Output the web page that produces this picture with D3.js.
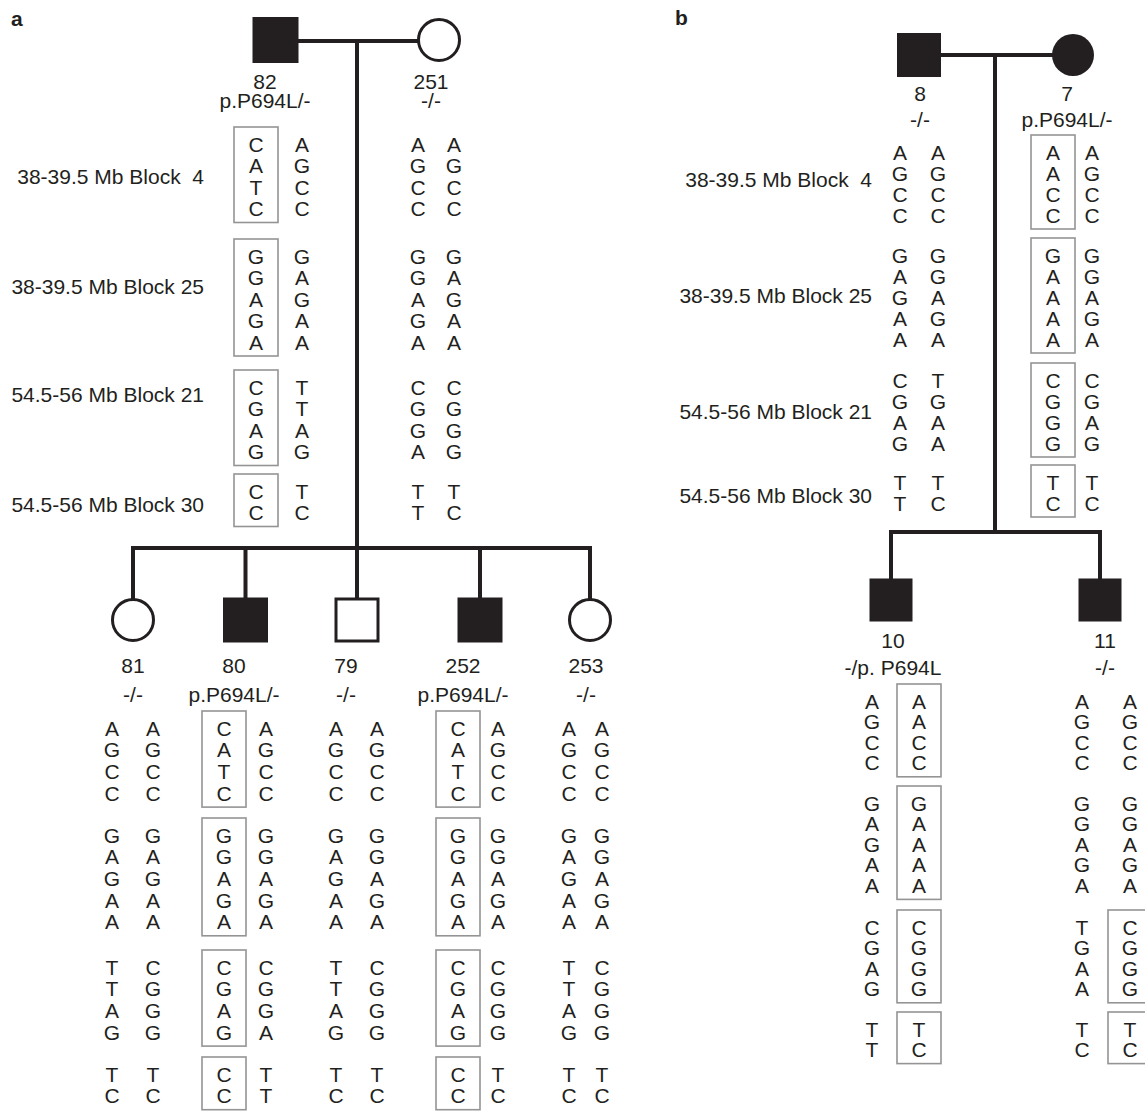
<!DOCTYPE html>
<html lang="en">
<head>
<meta charset="UTF-8">
<title>Pedigrees</title>
<style>
  body { margin: 0; background: #fff; }
  text { font-family: "Liberation Sans", Arial, Helvetica, sans-serif; fill: #231f20; }
</style>
</head>
<body>
<script src="https://cdn.jsdelivr.net/npm/d3@7/dist/d3.min.js"></script>
<script>
// ---- data ----
var blockNames = ["38-39.5 Mb Block  4", "38-39.5 Mb Block 25", "54.5-56 Mb Block 21", "54.5-56 Mb Block 30"];

// family a
var idsA      = ["82", "251", "81", "80", "79", "252", "253"];
var sexA      = ["m", "f", "f", "m", "m", "m", "f"];
var affectedA = [1, 0, 0, 1, 0, 1, 0];
var genoA     = ["p.P694L/-", "-/-", "-/-", "p.P694L/-", "-/-", "p.P694L/-", "-/-"];
var hap1A = [
  ["CATC", "GGAGA", "CGAG", "CC"],
  ["AGCC", "GGAGA", "CGGA", "TT"],
  ["AGCC", "GAGAA", "TTAG", "TC"],
  ["CATC", "GGAGA", "CGAG", "CC"],
  ["AGCC", "GAGAA", "TTAG", "TC"],
  ["CATC", "GGAGA", "CGAG", "CC"],
  ["AGCC", "GAGAA", "TTAG", "TC"]
];
var hap2A = [
  ["AGCC", "GAGAA", "TTAG", "TC"],
  ["AGCC", "GAGAA", "CGGG", "TC"],
  ["AGCC", "GAGAA", "CGGG", "TC"],
  ["AGCC", "GGAGA", "CGGA", "TT"],
  ["AGCC", "GGAGA", "CGGG", "TC"],
  ["AGCC", "GGAGA", "CGGG", "TC"],
  ["AGCC", "GGAGA", "CGGG", "TC"]
];
// blocks framed (carrying the mutant haplotype), per chromosome
var box1A = [[0, 1, 2, 3], [], [], [0, 1, 2, 3], [], [0, 1, 2, 3], []];
var box2A = [[], [], [], [], [], [], []];

// family b
var idsB      = ["8", "7", "10", "11"];
var sexB      = ["m", "f", "m", "m"];
var affectedB = [1, 1, 1, 1];
var genoB     = ["-/-", "p.P694L/-", "-/p. P694L", "-/-"];
var hap1B = [
  ["AGCC", "GAGAA", "CGAG", "TT"],
  ["AACC", "GAAAA", "CGGG", "TC"],
  ["AGCC", "GAGAA", "CGAG", "TT"],
  ["AGCC", "GGAGA", "TGAA", "TC"]
];
var hap2B = [
  ["AGCC", "GGAGA", "TGAA", "TC"],
  ["AGCC", "GGAGA", "CGAG", "TC"],
  ["AACC", "GAAAA", "CGGG", "TC"],
  ["AGCC", "GGAGA", "CGGG", "TC"]
];
var box1B = [[], [0, 1, 2, 3], [], []];
var box2B = [[], [], [0, 1, 2, 3], [2, 3]];

// ---- layout ----
var W = 1145, H = 1113;
var ink = "#231f20", boxColor = "#949494";

var svg = d3.select("body").append("svg")
  .attr("width", W).attr("height", H);

function rowScale(blockY, rowH) {
  // y of a letter from block index and row index
  return function(b, r) { return blockY[b] + r * rowH; };
}

var panels = [
  {
    tag: "a", tagX: 11, tagY: 26,
    ids: idsA, sex: sexA, aff: affectedA, geno: genoA, h1: hap1A, h2: hap2A, b1: box1A, b2: box2A,
    labelX: 204, labelY: [176, 286, 394, 504],
    mate: {y: 41, x1: 275, x2: 439}, descentX: 357,
    sib: {y: 548, x1: 133, x2: 590},
    parentY: 40, childY: 620,
    symX: [275.5, 439, 133, 245.5, 357, 480, 590],
    size: [46, 44, 44, 45, 45, 45, 44],
    lblX: [265, 431, 133, 234, 346, 463, 586],
    col1: [256, 418, 112, 224, 336, 458, 569],
    col2: [302, 454, 153, 266, 377, 498, 602],
    idBase: [89, 89, 673, 673, 673, 673, 673],
    genoBase: [108, 108, 702, 702, 702, 702, 702],
    parentRows: rowScale([144, 256, 387, 491], 21.5),
    childRows: rowScale([728, 835, 967, 1074], 21.7)
  },
  {
    tag: "b", tagX: 675, tagY: 25,
    ids: idsB, sex: sexB, aff: affectedB, geno: genoB, h1: hap1B, h2: hap2B, b1: box1B, b2: box2B,
    labelX: 872, labelY: [179, 295, 411, 495],
    mate: {y: 55, x1: 919, x2: 1073}, descentX: 995,
    sib: {y: 532, x1: 891, x2: 1100},
    parentY: 55, childY: 600,
    symX: [919, 1073, 891, 1100],
    size: [44, 42, 43, 43],
    lblX: [920, 1067, 893, 1105],
    col1: [900, 1053, 872, 1082],
    col2: [938, 1092, 919, 1130],
    idBase: [101, 101, 648, 648],
    genoBase: [127, 127, 675, 675],
    parentRows: rowScale([152, 255, 380, 482], 21),
    childRows: rowScale([701, 803, 927, 1029], 20.6)
  }
];

panels.forEach(function(P) {
  var g = svg.append("g");

  g.append("text").attr("x", P.tagX).attr("y", P.tagY)
    .attr("font-size", 21).attr("font-weight", "bold").text(P.tag);

  // block labels
  g.selectAll("text.blk").data(blockNames).join("text")
    .attr("class", "blk")
    .attr("x", P.labelX)
    .attr("y", function(d, i) { return P.labelY[i] + 7.5; })
    .attr("text-anchor", "end")
    .attr("font-size", 21)
    .attr("xml:space", "preserve")
    .style("white-space", "pre")
    .text(function(d) { return d; });

  // pedigree lines
  var lines = g.append("g").attr("stroke", ink).attr("stroke-width", 4).attr("fill", "none");
  lines.append("line").attr("x1", P.mate.x1).attr("x2", P.mate.x2).attr("y1", P.mate.y).attr("y2", P.mate.y);
  lines.append("line").attr("x1", P.descentX).attr("x2", P.descentX).attr("y1", P.mate.y).attr("y2", P.sib.y);
  lines.append("line").attr("x1", P.sib.x1 - 2).attr("x2", P.sib.x2 + 2).attr("y1", P.sib.y).attr("y2", P.sib.y);

  var people = P.ids.map(function(id, i) {
    return {id: id, i: i, child: i >= 2};
  });

  lines.selectAll("line.drop").data(people.filter(function(p) { return p.child; })).join("line")
    .attr("class", "drop")
    .attr("x1", function(p) { return P.symX[p.i]; })
    .attr("x2", function(p) { return P.symX[p.i]; })
    .attr("y1", P.sib.y)
    .attr("y2", P.childY);

  // symbols
  people.forEach(function(p) {
    var i = p.i, cx = P.symX[i], cy = p.child ? P.childY : P.parentY, s = P.size[i];
    var fill = P.aff[i] ? ink : "#fff";
    if (P.sex[i] === "m") {
      var sw = P.aff[i] ? 0 : 3;
      g.append("rect")
        .attr("x", cx - s / 2 + sw / 2).attr("y", cy - s / 2 + sw / 2)
        .attr("width", s - sw).attr("height", s - sw)
        .attr("fill", fill).attr("stroke", ink).attr("stroke-width", sw);
    } else {
      var sw2 = P.aff[i] ? 0 : 3;
      g.append("circle")
        .attr("cx", cx).attr("cy", cy).attr("r", s / 2 - sw2 / 2)
        .attr("fill", fill).attr("stroke", ink).attr("stroke-width", sw2);
    }

    // labels
    g.append("text").attr("x", P.lblX[i]).attr("y", P.idBase[i])
      .attr("text-anchor", "middle").attr("font-size", 21).text(p.id);
    g.append("text").attr("x", P.lblX[i]).attr("y", P.genoBase[i])
      .attr("text-anchor", "middle").attr("font-size", 21).text(P.geno[i]);

    // haplotypes
    var rowY = p.child ? P.childRows : P.parentRows;
    [[P.h1, P.col1, P.b1], [P.h2, P.col2, P.b2]].forEach(function(c) {
      var hap = c[0][i], x = c[1][i], boxed = c[2][i];
      hap.forEach(function(alleles, b) {
        var letters = alleles.split("");
        g.selectAll(null).data(letters).enter().append("text")
          .attr("x", x)
          .attr("y", function(d, r) { return rowY(b, r) + 7.5; })
          .attr("text-anchor", "middle")
          .attr("font-size", 21)
          .text(function(d) { return d; });
        if (boxed.indexOf(b) >= 0) {
          var top = rowY(b, 0) - 17, bot = rowY(b, letters.length - 1) + 14;
          g.append("rect")
            .attr("x", x - 22).attr("y", top)
            .attr("width", 44).attr("height", bot - top)
            .attr("fill", "none").attr("stroke", boxColor).attr("stroke-width", 1.6);
        }
      });
    });
  });
});
</script>
</body>
</html>
